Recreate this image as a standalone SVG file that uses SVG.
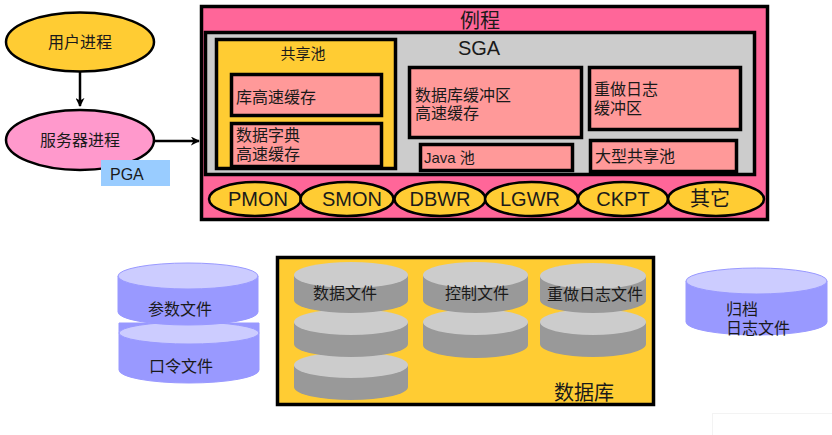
<svg xmlns="http://www.w3.org/2000/svg" width="832" height="435" viewBox="0 0 832 435">
<defs>
<style>
text{font-family:"Liberation Sans","Noto Sans CJK SC",sans-serif;fill:#1a1a1a}
.b{stroke:#000;stroke-width:3.5}
.pink{fill:#FF6699}
.sal{fill:#FF9999}
.yel{fill:#FFCC33}
.gtop{fill:#CCCCCC}
.gbody{fill:#999999}
.btop{fill:#CCCCFF;stroke:#9999FF;stroke-width:1}
.bbody{fill:#9999FF;stroke:#9999FF;stroke-width:1}
.proc{fill:#FFCC33;stroke:#000;stroke-width:2.5}
.pt{font-size:20px;text-anchor:middle}
.c{font-size:16px}
.m{text-anchor:middle}
</style>
<marker id="ah" viewBox="0 0 10 10" refX="9" refY="5" markerWidth="9" markerHeight="9" markerUnits="userSpaceOnUse" orient="auto">
<path d="M0,0 L10,5 L0,10 L3,5 Z" fill="#000"/>
</marker>
</defs>

<g id="connectors" stroke="#000" stroke-width="2.5" fill="none">
<line x1="80" y1="72" x2="80" y2="106" marker-end="url(#ah)"/>
<line x1="154" y1="141" x2="199" y2="141" marker-end="url(#ah)"/>
</g>

<g id="user-process">
<ellipse cx="80" cy="42" rx="74" ry="29.5" fill="#FFCC33" stroke="#000" stroke-width="2.5"/>
<text x="80" y="48" class="c m">用户进程</text>
</g>

<g id="server-process">
<ellipse cx="80" cy="140" rx="74" ry="30" fill="#FF99CC" stroke="#000" stroke-width="2.5"/>
<text x="80" y="146" class="c m">服务器进程</text>
</g>

<g id="pga">
<rect x="101" y="160" width="69" height="26" fill="#99CCFF"/>
<text x="110" y="180" font-size="16">PGA</text>
</g>

<g id="instance">
<rect x="201.5" y="6.5" width="566" height="213" class="pink b"/>
<text x="480" y="28" class="pt">例程</text>
</g>

<g id="sga">
<rect x="205.5" y="32.5" width="549" height="142" fill="#CCCCCC" class="b"/>
<text x="479" y="55" class="pt">SGA</text>
</g>

<g id="shared-pool">
<rect x="216.5" y="39.5" width="179" height="129" class="yel b"/>
<text x="303" y="59" class="m" font-size="15">共享池</text>
</g>

<g id="library-cache">
<rect x="231.5" y="74.5" width="150" height="41" class="sal b"/>
<text x="236" y="103" class="c">库高速缓存</text>
</g>

<g id="dict-cache">
<rect x="231.5" y="123.5" width="150" height="43" class="sal b"/>
<text x="236" y="141" class="c">数据字典</text>
<text x="236" y="160" class="c">高速缓存</text>
</g>

<g id="db-buffer-cache">
<rect x="409.5" y="67.5" width="172" height="70" class="sal b"/>
<text x="415" y="101" class="c">数据库缓冲区</text>
<text x="415" y="119" class="c">高速缓存</text>
</g>

<g id="java-pool">
<rect x="420.5" y="144.5" width="152" height="26" class="sal b"/>
<text x="424" y="163" font-size="15">Java 池</text>
</g>

<g id="redo-buffer">
<rect x="589.5" y="67.5" width="151" height="62" class="sal b"/>
<text x="594" y="95" class="c">重做日志</text>
<text x="594" y="114" class="c">缓冲区</text>
</g>

<g id="large-pool">
<rect x="590.5" y="140.5" width="146" height="31" class="sal b"/>
<text x="595" y="162" class="c">大型共享池</text>
</g>

<g id="pmon"><ellipse cx="255" cy="199" rx="46" ry="17" class="proc"/><text x="258" y="206" class="pt">PMON</text></g>
<g id="smon"><ellipse cx="347" cy="199" rx="46.5" ry="17" class="proc"/><text x="352" y="206" class="pt">SMON</text></g>
<g id="dbwr"><ellipse cx="440" cy="199" rx="45.5" ry="17" class="proc"/><text x="440" y="206" class="pt">DBWR</text></g>
<g id="lgwr"><ellipse cx="531.5" cy="199" rx="46.5" ry="17" class="proc"/><text x="530" y="206" class="pt">LGWR</text></g>
<g id="ckpt"><ellipse cx="623" cy="199" rx="45" ry="17" class="proc"/><text x="623" y="206" class="pt">CKPT</text></g>
<g id="other"><ellipse cx="716" cy="199" rx="48" ry="17" class="proc"/><text x="710" y="206" class="pt">其它</text></g>

<g id="param-files">
<path d="M119,323 L119,370 A70,13 0 0 0 259,370 L259,323 Z" class="bbody"/>
<ellipse cx="189" cy="333" rx="70" ry="11" class="btop"/>
<text x="181" y="372" class="c m">口令文件</text>
<path d="M118,276 L118,312 A70,13 0 0 0 258,312 L258,276 Z" class="bbody"/>
<ellipse cx="188" cy="276" rx="70" ry="13" class="btop"/>
<text x="180" y="315" class="c m">参数文件</text>
</g>

<g id="database">
<rect x="277.5" y="257.5" width="376" height="147" class="yel b"/>
<text x="584" y="400" font-size="20" class="m">数据库</text>
</g>

<g id="datafiles">
<path d="M294,365 L294,387 A57,13 0 0 0 408,387 L408,365 Z" class="gbody"/>
<ellipse cx="351" cy="365" rx="57" ry="13" class="gtop"/>
<path d="M294,322 L294,344 A57,13 0 0 0 408,344 L408,322 Z" class="gbody"/>
<ellipse cx="351" cy="322" rx="57" ry="13" class="gtop"/>
<path d="M294,275 L294,300 A57,13 0 0 0 408,300 L408,275 Z" class="gbody"/>
<ellipse cx="351" cy="275" rx="57" ry="13" class="gtop"/>
<text x="345" y="299" class="c m">数据文件</text>
</g>

<g id="control-files">
<path d="M423,322 L423,345 A52.5,13 0 0 0 528,345 L528,322 Z" class="gbody"/>
<ellipse cx="475.5" cy="322" rx="52.5" ry="13" class="gtop"/>
<path d="M423,275 L423,300 A52.5,13 0 0 0 528,300 L528,275 Z" class="gbody"/>
<ellipse cx="475.5" cy="275" rx="52.5" ry="13" class="gtop"/>
<text x="477" y="299" class="c m">控制文件</text>
</g>

<g id="redo-files">
<path d="M540,322 L540,344 A53,13 0 0 0 646,344 L646,322 Z" class="gbody"/>
<ellipse cx="593" cy="322" rx="53" ry="13" class="gtop"/>
<path d="M540,276 L540,300 A53,13 0 0 0 646,300 L646,276 Z" class="gbody"/>
<ellipse cx="593" cy="276" rx="53" ry="13" class="gtop"/>
<text x="595" y="300" class="c m">重做日志文件</text>
</g>

<g id="archive-files">
<path d="M686,281 L686,322 A70.5,13 0 0 0 827,322 L827,281 Z" class="bbody"/>
<ellipse cx="756.5" cy="281" rx="70.5" ry="13" class="btop"/>
<text x="726" y="315" class="c">归档</text>
<text x="726" y="334" class="c">日志文件</text>
</g>

<rect x="712.5" y="413.5" width="130" height="30" fill="none" stroke="#f3f3f3" stroke-width="1"/>
</svg>
